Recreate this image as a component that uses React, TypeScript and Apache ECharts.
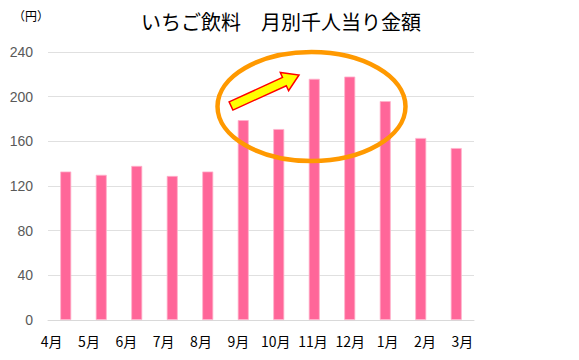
import React, { useEffect, useRef } from "react";
import * as echarts from "echarts";

const categories = ["4月", "5月", "6月", "7月", "8月", "9月", "10月", "11月", "12月", "1月", "2月", "3月"];
const values = [133, 130, 138, 129, 133, 179, 171, 216, 218, 196, 163, 154];
const yTicks = { min: 0, max: 240, interval: 40 };
const titleText = "いちご飲料\u3000月別千人当り金額";
const unitText = "（円）";

export default function App() {
  const ref = useRef<HTMLDivElement>(null);
  useEffect(() => {
    if (!ref.current) return;
    const chart = echarts.init(ref.current, null, { renderer: "svg" });
    chart.setOption({
      animation: false,
      backgroundColor: "#ffffff",
      title: {
        text: titleText,
        left: 276,
        textAlign: "center",
        top: 6,
        textStyle: {
          fontFamily: "Noto Sans CJK JP",
          fontSize: 20,
          fontWeight: "normal",
          color: "#000000",
        },
      },
      grid: [
        { left: 48, right: 105, top: 52, bottom: 40, containLabel: false },
        { left: 33, right: 98, top: 52, bottom: 40, containLabel: false },
      ],
      xAxis: [
        {
          type: "category",
          gridIndex: 0,
          data: categories,
          axisLine: { lineStyle: { color: "#d9d9d9", width: 1 } },
          axisTick: { show: false },
          axisLabel: { show: false },
        },
        {
          type: "category",
          gridIndex: 1,
          data: categories,
          axisLine: { show: false },
          axisTick: { show: false },
          splitLine: { show: false },
          axisLabel: {
            color: "#000000",
            fontFamily: "Noto Sans CJK JP",
            fontSize: 14,
            margin: 14,
            interval: 0,
          },
        },
      ],
      yAxis: [
        {
          type: "value",
          gridIndex: 0,
          min: yTicks.min,
          max: yTicks.max,
          interval: yTicks.interval,
          axisLine: { show: false },
          axisTick: { show: false },
          splitLine: { lineStyle: { color: "#e0e0e0", width: 1 } },
          axisLabel: {
            color: "#595959",
            fontFamily: "Liberation Sans",
            fontSize: 14,
            margin: 15,
          },
        },
        {
          type: "value",
          gridIndex: 1,
          min: yTicks.min,
          max: yTicks.max,
          interval: yTicks.interval,
          show: false,
        },
      ],
      series: [
        {
          type: "bar",
          xAxisIndex: 0,
          yAxisIndex: 0,
          data: values,
          barWidth: 11,
          itemStyle: { color: "#FF6699", borderColor: "#FFB3CC", borderWidth: 0.8 },
        },
      ],
      graphic: [
        {
          type: "text",
          left: 13,
          top: 9,
          style: {
            text: unitText,
            font: "12px 'Noto Sans CJK JP'",
            fill: "#000000",
          },
        },
        {
          type: "ellipse",
          shape: { cx: 311.5, cy: 106.5, rx: 94, ry: 54.5 },
          style: { fill: "none", stroke: "#FF9900", lineWidth: 4.5 },
          z: 100,
        },
        {
          type: "polygon",
          shape: {
            points: [
              [229.1, 101.9],
              [282.5, 77.5],
              [280.3, 72.5],
              [299, 75],
              [288.6, 90.7],
              [286.3, 85.7],
              [232.9, 110.1],
            ],
          },
          style: { fill: "#FFFF00", stroke: "#FF0000", lineWidth: 1.5 },
          z: 101,
        },
      ],
    });
    return () => chart.dispose();
  }, []);
  return <div ref={ref} style={{ width: 579, height: 360, margin: -8 }} />;
}
